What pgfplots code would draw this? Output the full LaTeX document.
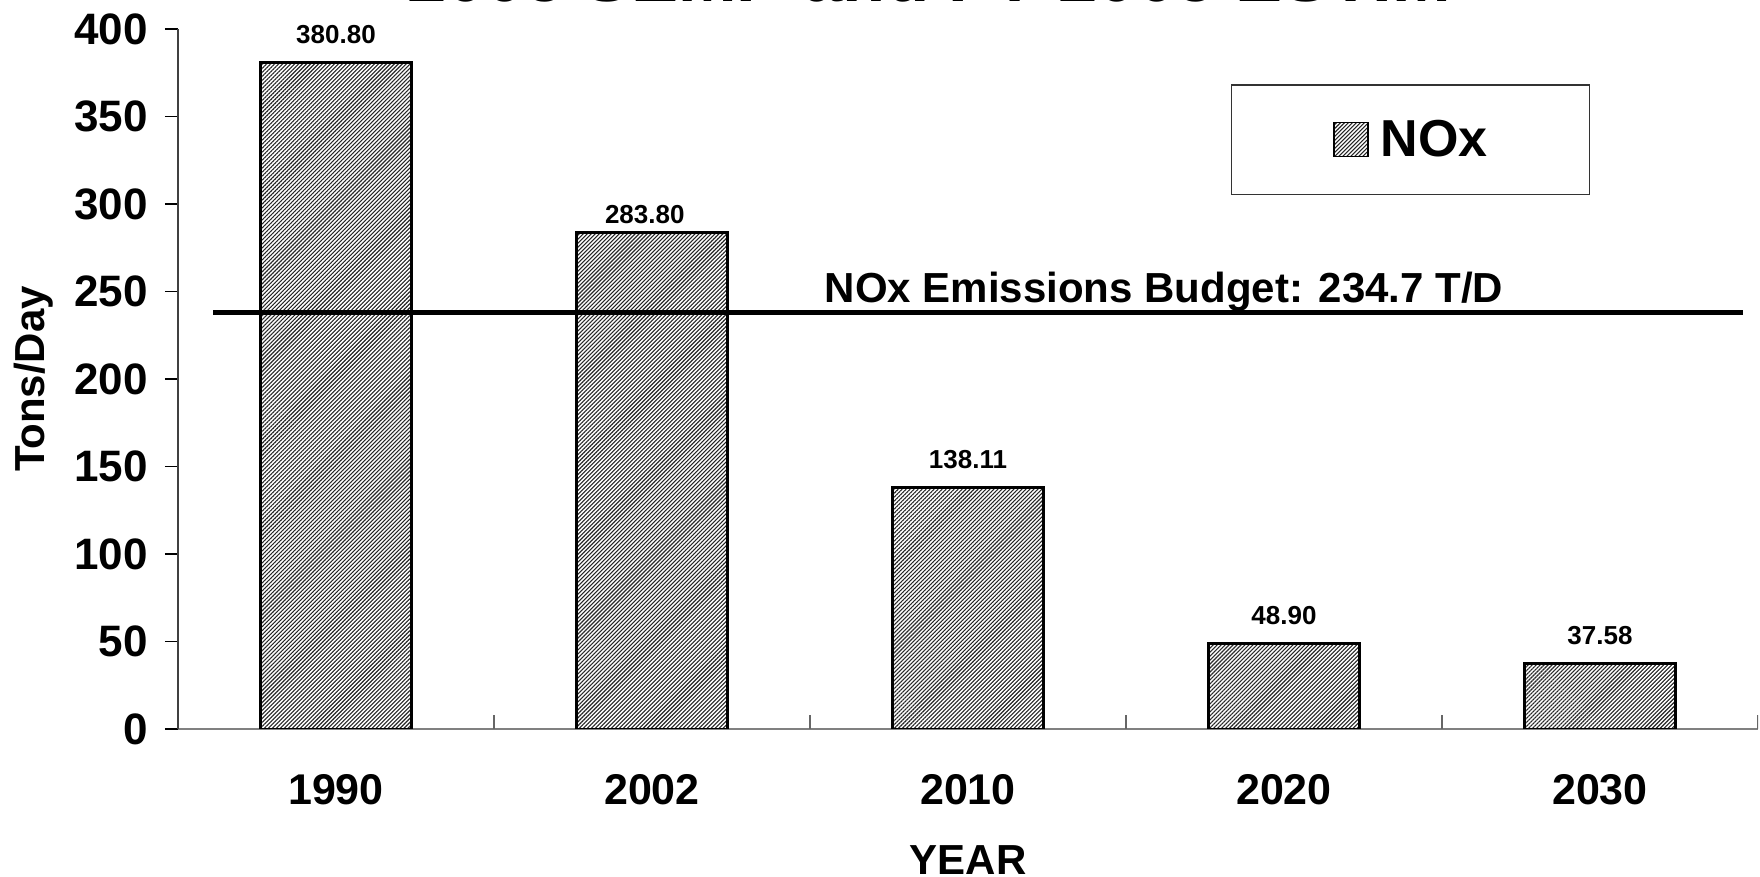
\documentclass[border=0pt]{standalone}
\usepackage{fontspec}
\setmainfont{Liberation Sans}
\usepackage{pgfplots}
\pgfplotsset{compat=1.18}
\usetikzlibrary{patterns.meta}
\pgfplotsset{nox legend/.style={legend image code/.code={\draw[##1, line width=0.8pt] (0pt,-8.5pt) rectangle (17pt,8.5pt);}}}
\begin{document}
\begin{tikzpicture}
\begin{axis}[
  at={(0,0)}, anchor=south west,
  scale only axis, width=790pt, height=350pt,
  xmin=-0.5, xmax=4.5, ymin=0, ymax=400,
  axis lines*=left,
  x axis line style={draw=black!50, line width=1pt},
  y axis line style={draw=black!75, line width=0.7pt},
  tick align=outside,
  major tick length=6.5pt,
  ytick={0,50,...,400},
  ytick style={black, line width=0.7pt},
  xtick={0,...,4}, xticklabels={1990,2002,2010,2020,2030},
  xtick style={draw=none},
  /pgf/number format/assume math mode=true,
  yticklabel style={inner sep=0pt, xshift=-8.5pt, font=\fontsize{22}{26}\selectfont\bfseries},
  xticklabel style={inner sep=0pt, yshift=-16pt, font=\fontsize{21.5}{26}\selectfont\bfseries},
  xlabel={YEAR}, ylabel={Tons/Day},
  label style={font=\fontsize{21}{25}\selectfont\bfseries},
  xlabel style={at={(axis description cs:0.5,-0.1871)}, anchor=center},
  ylabel style={at={(axis description cs:-0.0911,0.5)}, anchor=center},
  legend style={at={(0.780,0.842)}, anchor=center, draw=black!80, line width=0.6pt,
    font=\fontsize{26}{30}\selectfont\bfseries, nodes={inner sep=0pt},
    /tikz/column sep=6pt, inner xsep=51pt, inner ysep=17.5pt},
]
\addplot[ybar, bar width=0.478, draw=black, line width=1.4pt,
  pattern={Lines[angle=45,distance=1.41pt,line width=0.55pt]}, pattern color=black!85,
  visualization depends on={x \as \myx},
  nodes near coords={\pgfmathprintnumber[fixed,fixed zerofill,precision=2]{\pgfplotspointmeta}},
  every node near coord/.append style={font=\fontsize{13}{15}\selectfont\bfseries, anchor=south, inner sep=0pt,
    yshift={(\myx==1 ? 3.4 : 8.5)*1pt}, xshift={(\myx==1 ? -3.6 : 0)*1pt}},
  nox legend
] coordinates {(0,380.80) (1,283.80) (2,138.11) (3,48.90) (4,37.58)};
\addlegendentry{NOx}
\addplot[ycomb, draw=black!60, line width=0.7pt, no marks, forget plot]
  coordinates {(0.5,8) (1.5,8) (2.5,8) (3.5,8) (4.5,8)};
\addplot[black, line width=2.6pt, no marks, forget plot]
  coordinates {(-0.389,237.9) (4.452,237.9)};
\node[font=\fontsize{21}{25}\selectfont\bfseries, anchor=base, inner sep=0pt, yshift=4.85pt]
  at (axis cs:2.62,237.9) {NOx Emissions Budget: 234.7 T/D};
\end{axis}
\node[anchor=base west, inner sep=0pt, font=\fontsize{35.3}{40}\selectfont\bfseries]
  at (114.5pt,363.7pt) {2005 SEMP and FY 2005 ESTIM};
\pgfresetboundingbox
\path[use as bounding box] (-89pt,-74pt) rectangle (791pt,364.5pt);
\end{tikzpicture}
\end{document}
